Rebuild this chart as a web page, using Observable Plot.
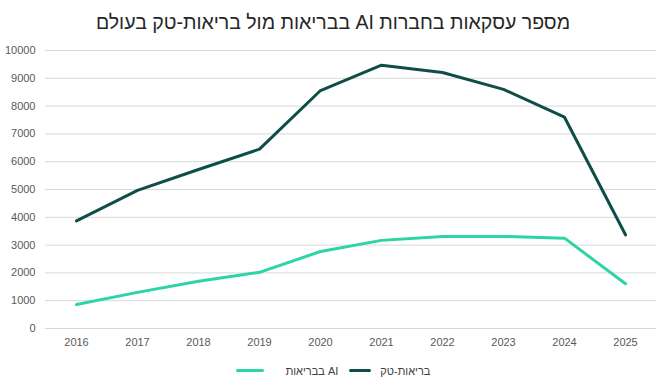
<!DOCTYPE html>
<html>
<head>
<meta charset="utf-8">
<script src="https://cdn.jsdelivr.net/npm/d3@7"></script>
<script src="https://cdn.jsdelivr.net/npm/@observablehq/plot@0.6"></script>
<style>
  html, body { margin: 0; padding: 0; background: #fff; }
  body { width: 666px; height: 392px; overflow: hidden; font-family: "Liberation Sans", Arial, sans-serif; }
  #title { height: 40px; line-height: 44px; text-align: center; font-size: 19.5px; color: #262626; direction: rtl; }
  #legend { display: flex; justify-content: center; align-items: center; height: 21px; font-size: 11px; color: #404040; gap: 0; }
  .sw { display: inline-block; height: 3px; }
  .lt { direction: rtl; }
</style>
</head>
<body>
<div id="title"></div>
<div id="chart"></div>
<div id="legend"></div>
<script>
const titleText = "מספר עסקאות בחברות AI בבריאות מול בריאות-טק בעולם";
const years = ["2016","2017","2018","2019","2020","2021","2022","2023","2024","2025"];
const healthTech = [3870, 4970, 5720, 6450, 8560, 9470, 9210, 8600, 7600, 3370];
const aiHealth = [860, 1300, 1700, 2020, 2770, 3170, 3310, 3310, 3250, 1610];
const seriesNames = ["בריאות-טק", "AI בבריאות"];
const seriesColors = ["#0f4d48", "#2dd4a6"];
const yTicks = [0,1000,2000,3000,4000,5000,6000,7000,8000,9000,10000];

document.getElementById("title").textContent = titleText;

const rows = [];
years.forEach((y, i) => {
  rows.push({year: y, value: healthTech[i], series: seriesNames[0]});
  rows.push({year: y, value: aiHealth[i], series: seriesNames[1]});
});

const chart = Plot.plot({
  width: 666,
  height: 320,
  marginTop: 10,
  marginBottom: 32,
  marginLeft: 45,
  marginRight: 10,
  style: {fontFamily: "'Liberation Sans', Arial, sans-serif", fontSize: "11px", color: "#595959", background: "#fff"},
  x: {type: "point", domain: years, padding: 0.5, label: null, tickSize: 0, tickPadding: 10},
  y: {domain: [0, 10000], ticks: yTicks, label: null, tickSize: 0, tickPadding: 10, tickFormat: d => String(d)},
  color: {domain: seriesNames, range: seriesColors},
  marks: [
    Plot.gridY(yTicks, {stroke: "#d9d9d9", strokeOpacity: 1, strokeWidth: 1}),
    Plot.axisX({tickSize: 0, tickPadding: 10, fill: "#595959"}),
    Plot.axisY(yTicks, {tickSize: 0, tickPadding: 10, fill: "#595959", tickFormat: d => String(d)}),
    Plot.line(rows, {x: "year", y: "value", z: "series", stroke: "series", strokeWidth: 3, strokeLinejoin: "round", strokeLinecap: "round"})
  ]
});
document.getElementById("chart").appendChild(chart);

const legend = document.getElementById("legend");
const items = [
  {name: seriesNames[1], color: seriesColors[1], sw: 28, gapAfterSw: 22, gapAfterText: 11},
  {name: seriesNames[0], color: seriesColors[0], sw: 22, gapAfterSw: 9, gapAfterText: 0}
];
items.forEach(it => {
  const s = document.createElement("span");
  s.className = "sw";
  s.style.width = it.sw + "px";
  s.style.background = it.color;
  s.style.marginRight = it.gapAfterSw + "px";
  s.style.borderRadius = "2px";
  legend.appendChild(s);
  const t = document.createElement("span");
  t.className = "lt";
  t.textContent = it.name;
  t.style.marginRight = it.gapAfterText + "px";
  legend.appendChild(t);
});
</script>
</body>
</html>
